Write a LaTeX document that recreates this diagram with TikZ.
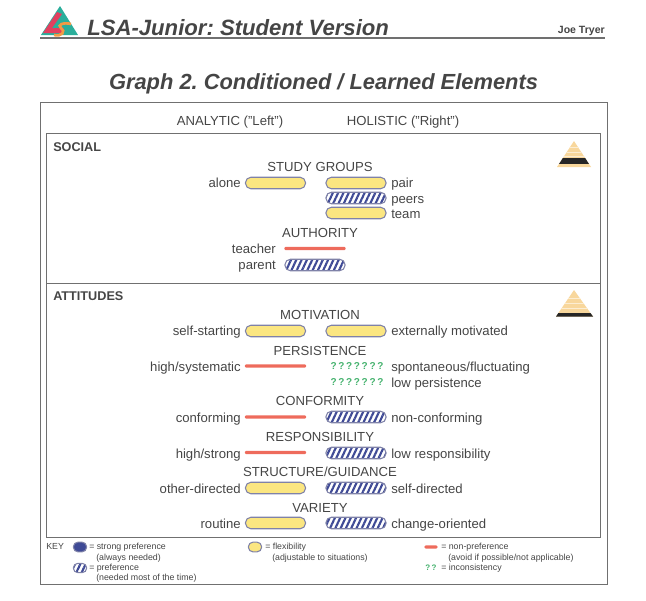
\documentclass[tikz,border=0pt]{standalone}
\usepackage{fontspec}
\setmainfont{Liberation Sans}
\usetikzlibrary{patterns.meta}
\definecolor{ink}{HTML}{454545}
\definecolor{frameg}{HTML}{707070}
\definecolor{barblue}{HTML}{3F4A96}
\definecolor{baredge}{HTML}{7F82A8}
\definecolor{flexy}{HTML}{FBE681}
\definecolor{nored}{HTML}{EE6B5C}
\definecolor{qgreen}{HTML}{45B26E}
\definecolor{pyr}{HTML}{F8D79C}
\definecolor{logot}{HTML}{2BAE9B}
\definecolor{logor}{HTML}{E2405F}
\definecolor{logoo}{HTML}{F39A45}
\frenchspacing
\begin{document}
\begin{tikzpicture}
[x=.75pt,y=-.75pt,text=ink,
lab/.style={font=\fontsize{9.85}{11}\selectfont,inner sep=0pt,text height=9.2pt,text depth=2pt},
leftlab/.style={lab,anchor=east},
rightlab/.style={lab,anchor=west},
head/.style={lab,anchor=center},
side/.style={font=\fontsize{9.5}{10}\bfseries\selectfont,inner sep=0pt,anchor=west},
small/.style={font=\fontsize{6.6}{7}\selectfont,inner sep=0pt,anchor=west,text height=6pt,text depth=1.5pt},
bar/.style={rectangle,rounded corners=4pt,minimum width=45pt,minimum height=8.6pt,inner sep=0pt,draw=baredge,line width=.8pt},
flex/.style={bar,fill=flexy},
pref/.style={bar,preaction={fill=white},pattern={Lines[angle=65,distance=3.6pt,line width=1.6pt]},pattern color=barblue},
nopref/.style={rectangle,rounded corners=1pt,minimum width=46pt,minimum height=2.6pt,inner sep=0pt,fill=nored},
quest/.style={font=\fontsize{7.5}{9}\bfseries\selectfont,inner sep=0pt,text=qgreen},
box/.style={draw=frameg,line width=.7pt}]
\useasboundingbox (0,0) rectangle (646,600);

% header
\fill[logot] (60,6) -- (78,35) -- (41,35) -- cycle;
\fill[logor] (57,12) -- (62,14) -- (52,28) -- (64,28) -- (61,33) -- (43,33) -- cycle;
\draw[logoo,line width=2pt] (71,24) .. controls (63,22) and (57,25) .. (61,28) .. controls (66,31) and (62,37) .. (54,35);
\node (htitle) at (87,27.5) [anchor=west,inner sep=0pt,font=\fontsize{16.6}{18}\bfseries\itshape\selectfont] {LSA-Junior: Student Version};
\node (author) at (605,31) [anchor=east,inner sep=0pt,font=\fontsize{7.9}{9}\bfseries\selectfont] {Joe Tryer};
\draw[frameg,line width=1.2pt] (40,38) -- (605,38);
\node (gtitle) at (323.5,84) [inner sep=0pt,font=\fontsize{16.4}{18}\bfseries\itshape\selectfont] {Graph 2. Conditioned / Learned Elements};

% frames
\draw[box] (40,102) rectangle (607,584);
\draw[box] (46,133) rectangle (600,283);
\draw[box] (46,283) rectangle (600,537);

\node (analytic) at (230,121) [head] {ANALYTIC ("Left")};
\node (holistic) at (403,121) [head] {HOLISTIC ("Right")};

% social
\node (social) at (53,147) [side] {SOCIAL};
\begin{scope}
\clip (574,141) -- (591,167) -- (557,167) -- cycle;
\fill[pyr] (550,138) rectangle (600,170);
\draw[pyr!45,line width=.6pt] (550,147) -- (600,147) (550,152) -- (600,152) (550,156) -- (600,156);
\fill[black!85] (550,158) rectangle (600,164);
\end{scope}

\node (studyg) at (320,167) [head] {STUDY GROUPS};
\node (alonebar) at (275.5,183) [flex] {};
\node (alone) at (241,183) [leftlab] {alone};
\node (pairbar) at (356,183) [flex] {};
\node (pair) at (391,183) [rightlab] {pair};
\node (peersbar) at (356,198) [pref] {};
\node (peers) at (391,198.5) [rightlab] {peers};
\node (teambar) at (356,213) [flex] {};
\node (team) at (391,213.5) [rightlab] {team};

\node (authority) at (320,233) [head] {AUTHORITY};
\node (teacherbar) at (315,248.5) [nopref] {};
\node (teacher) at (276,249) [leftlab] {teacher};
\node (parentbar) at (315,265) [pref] {};
\node (parent) at (276,265) [leftlab] {parent};

% attitudes
\node (attitudes) at (53,296) [side] {ATTITUDES};
\begin{scope}
\clip (574,290) -- (593,316.5) -- (556,316.5) -- cycle;
\fill[pyr] (550,285) rectangle (600,320);
\draw[pyr!45,line width=.6pt] (550,298) -- (600,298) (550,303) -- (600,303) (550,308) -- (600,308);
\fill[black!85] (550,312.5) rectangle (600,320);
\end{scope}

\node (motivation) at (320,315) [head] {MOTIVATION};
\node (startbar) at (275.5,331) [flex] {};
\node (start) at (241,331) [leftlab] {self-starting};
\node (extbar) at (356,331) [flex] {};
\node (ext) at (391,331) [rightlab] {externally motivated};

\node (persistence) at (320,351) [head] {PERSISTENCE};
\node (highbar) at (275.5,366) [nopref] {};
\node (high) at (241,367) [leftlab] {high/systematic};
\node (q1) at (357,366.5) [quest] {?\,?\,?\,?\,?\,?\,?};
\node (spont) at (391,367) [rightlab] {spontaneous/fluctuating};
\node (q2) at (357,382.5) [quest] {?\,?\,?\,?\,?\,?\,?};
\node (lowp) at (391,383) [rightlab] {low persistence};

\node (conformity) at (320,401) [head] {CONFORMITY};
\node (confbar) at (275.5,417) [nopref] {};
\node (conf) at (241,418) [leftlab] {conforming};
\node (nonconfbar) at (356,417) [pref] {};
\node (nonconf) at (391,418) [rightlab] {non-conforming};

\node (responsibility) at (320,437) [head] {RESPONSIBILITY};
\node (strongbar) at (275.5,452.5) [nopref] {};
\node (strong) at (241,453.5) [leftlab] {high/strong};
\node (lowrbar) at (356,453) [pref] {};
\node (lowr) at (391,453.5) [rightlab] {low responsibility};

\node (structure) at (320,472) [head] {STRUCTURE/GUIDANCE};
\node (otherbar) at (275.5,488) [flex] {};
\node (other) at (241,488.5) [leftlab] {other-directed};
\node (selfbar) at (356,488) [pref] {};
\node (self) at (391,488.5) [rightlab] {self-directed};

\node (variety) at (320,508) [head] {VARIETY};
\node (routinebar) at (275.5,523) [flex] {};
\node (routine) at (241,523.5) [leftlab] {routine};
\node (changebar) at (356,523) [pref] {};
\node (change) at (391,523.5) [rightlab] {change-oriented};

% key
\node (key) at (46,546) [small] {KEY};
\node (strongkey) at (80,547) [bar,rounded corners=3.6pt,minimum width=10pt,minimum height=7.4pt,fill=barblue] {};
\node (strongtxt) at (89,546) [small] {= strong preference};
\node (strongsub) at (96,557) [small] {(always needed)};
\node (prefkey) at (80,568) [pref,rounded corners=3.4pt,minimum width=10pt,minimum height=7pt] {};
\node (preftxt) at (89,567) [small] {= preference};
\node (prefsub) at (96,577) [small] {(needed most of the time)};
\node (flexkey) at (255,547) [flex,rounded corners=3.6pt,minimum width=10pt,minimum height=7.4pt] {};
\node (flextxt) at (265,546) [small] {= flexibility};
\node (flexsub) at (272,557) [small] {(adjustable to situations)};
\node (nokey) at (431,547) [nopref,minimum width=10pt,minimum height=2.4pt] {};
\node (notxt) at (441,546) [small] {= non-preference};
\node (nosub) at (448,557) [small] {(avoid if possible/not applicable)};
\node (qkey) at (431,568) [quest,font=\fontsize{6}{7}\bfseries\selectfont] {?\,?};
\node (qtxt) at (441,567) [small] {= inconsistency};

\end{tikzpicture}
\end{document}
